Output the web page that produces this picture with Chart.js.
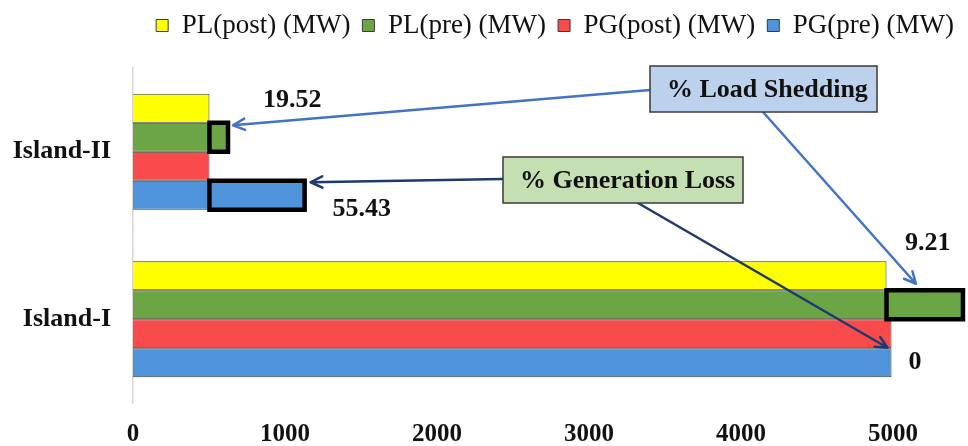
<!DOCTYPE html>
<html>
<head>
<meta charset="utf-8">
<script src="https://cdn.jsdelivr.net/npm/chart.js@4.4.0/dist/chart.umd.min.js"></script>
<style>
    html, body { margin: 0; padding: 0; background: #fff; }
</style>
</head>
<body>
<canvas id="chartCanvas" width="968" height="446"></canvas>
<script>
// categories, top to bottom
const islands = ["Island-II", "Island-I"];
const seriesNames = ["PL(post) (MW)", "PL(pre) (MW)", "PG(post) (MW)", "PG(pre) (MW)"];

// MW values per island
const plPost = [503, 4957];
const plPre = [625, 5460];
const pgPost = [503, 4990];
const pgPre = [1129, 4990];

// percentages written next to the outlined parts
const loadSheddingPct = ["19.52", "9.21"];
const genLossPct = ["55.43", "0"];

const xTicks = [0, 1000, 2000, 3000, 4000, 5000];
const seriesColors = ["#ffff00", "#6ca545", "#f94b4b", "#4f94da"];

const SERIF = "'Liberation Serif', 'Times New Roman', serif";

function drawArrow(ctx, x1, y1, x2, y2, color) {
    const angle = Math.atan2(y2 - y1, x2 - x1);
    const head = 13;
    ctx.save();
    ctx.strokeStyle = color;
    ctx.lineWidth = 2.5;
    ctx.lineCap = "round";
    ctx.lineJoin = "round";
    ctx.beginPath();
    ctx.moveTo(x1, y1);
    ctx.lineTo(x2, y2);
    ctx.moveTo(x2 - head * Math.cos(angle - 0.45), y2 - head * Math.sin(angle - 0.45));
    ctx.lineTo(x2, y2);
    ctx.lineTo(x2 - head * Math.cos(angle + 0.45), y2 - head * Math.sin(angle + 0.45));
    ctx.stroke();
    ctx.restore();
}

function drawCallout(ctx, box, text, fill) {
    ctx.save();
    ctx.fillStyle = fill;
    ctx.strokeStyle = "#3a3a3a";
    ctx.lineWidth = 1.5;
    ctx.fillRect(box.x, box.y, box.w, box.h);
    ctx.strokeRect(box.x, box.y, box.w, box.h);
    ctx.fillStyle = "#111";
    ctx.font = "bold 26px " + SERIF;
    ctx.textAlign = "left";
    ctx.textBaseline = "middle";
    ctx.fillText(text, box.x + 17, box.y + box.h / 2 + 1);
    ctx.restore();
}

function drawLabel(ctx, text, x, y) {
    ctx.save();
    ctx.fillStyle = "#111";
    ctx.font = "bold 26px " + SERIF;
    ctx.textAlign = "left";
    ctx.textBaseline = "middle";
    ctx.fillText(text, x, y);
    ctx.restore();
}

const annotationPlugin = {
    id: "annotations",
    afterDatasetsDraw(chart) {
        const ctx = chart.ctx;
        const xScale = chart.scales.x;
        const bars = chart.data.datasets.map((d, i) => chart.getDatasetMeta(i).data);
        const pairs = [[0, 1, plPost, plPre], [2, 3, pgPost, pgPre]];

        // black outline over the part that was lost (pre - post)
        ctx.save();
        ctx.strokeStyle = "#000";
        ctx.lineWidth = 4.5;
        pairs.forEach(([postIdx, preIdx, post, pre]) => {
            islands.forEach((name, i) => {
                if (pre[i] <= post[i]) return;
                const bar = bars[preIdx][i];
                const left = xScale.getPixelForValue(post[i]);
                ctx.strokeRect(left, bar.y - bar.height / 2, bar.x - left, bar.height);
            });
        });
        ctx.restore();

        const greenII = bars[1][0], greenI = bars[1][1];
        const blueII = bars[3][0], blueI = bars[3][1];
        const yellowII = bars[0][0], yellowI = bars[0][1];

        const shedBox = { x: 650, y: 66, w: 227, h: 46 };
        const lossBox = { x: 503, y: 157, w: 240, h: 46 };

        drawArrow(ctx, shedBox.x, shedBox.y + 24, greenII.x + 5, greenII.y - 12, "#4472c4");
        drawArrow(ctx, shedBox.x + 113, shedBox.y + shedBox.h, greenI.x - 47, greenI.y - 21, "#4472c4");
        drawArrow(ctx, lossBox.x, lossBox.y + 22, blueII.x + 6, blueII.y - 13, "#1f3a6e");
        drawArrow(ctx, lossBox.x + 135, lossBox.y + lossBox.h, blueI.x - 4, blueI.y - 15, "#1f3a6e");

        drawCallout(ctx, shedBox, "% Load Shedding", "#bcd2ec");
        drawCallout(ctx, lossBox, "% Generation Loss", "#c5dfb3");

        drawLabel(ctx, loadSheddingPct[0], greenII.x + 35, yellowII.y - 8);
        drawLabel(ctx, genLossPct[0], blueII.x + 28, blueII.y + 14);
        drawLabel(ctx, loadSheddingPct[1], greenI.x - 58, yellowI.y - 32);
        drawLabel(ctx, genLossPct[1], blueI.x + 17, blueI.y);
    }
};

function renderChart() {
    const ctx = document.getElementById("chartCanvas").getContext("2d");
    const values = [plPost, plPre, pgPost, pgPre];

    const datasets = seriesNames.map((name, i) => ({
        label: name,
        data: values[i],
        backgroundColor: seriesColors[i],
        borderColor: "#3b3b3b",
        borderWidth: 1,
        borderSkipped: "start",
        categoryPercentage: 0.6925,
        barPercentage: 1.0,
    }));

    return new Chart(ctx, {
        type: "bar",
        data: { labels: islands, datasets },
        options: {
            indexAxis: "y",
            responsive: false,
            devicePixelRatio: 1,
            animation: false,
            layout: { padding: { left: 0, right: 2, top: 0, bottom: 0 } },
            plugins: {
                tooltip: { enabled: false },
                legend: {
                    position: "top",
                    align: "end",
                    labels: {
                        boxWidth: 12,
                        boxHeight: 12,
                        padding: 12,
                        color: "#111",
                        font: { family: SERIF, size: 27 },
                    },
                },
            },
            scales: {
                x: {
                    min: 0,
                    max: 5480,
                    afterBuildTicks: (scale) => {
                        scale.ticks = xTicks.map((v) => ({ value: v }));
                    },
                    afterFit: (scale) => {
                        scale.height = 43;
                    },
                    grid: { display: false, drawTicks: false },
                    border: { display: false },
                    ticks: {
                        autoSkip: false,
                        maxRotation: 0,
                        padding: 17,
                        color: "#111",
                        font: { family: SERIF, size: 25, weight: "bold" },
                        callback: (v) => String(v),
                    },
                },
                x2: {
                    position: "top",
                    display: true,
                    grid: { display: false, drawTicks: false },
                    border: { display: false },
                    ticks: { display: false },
                    afterFit: (scale) => {
                        scale.height = 19;
                    },
                },
                y: {
                    grid: { display: false, drawTicks: false },
                    border: { display: true, color: "#dcd4d0", width: 1.5 },
                    afterFit: (scale) => {
                        scale.width = 133;
                    },
                    ticks: {
                        padding: 22,
                        color: "#111",
                        font: { family: SERIF, size: 26, weight: "bold" },
                    },
                },
            },
        },
        plugins: [annotationPlugin],
    });
}

renderChart();
</script>
</body>
</html>
